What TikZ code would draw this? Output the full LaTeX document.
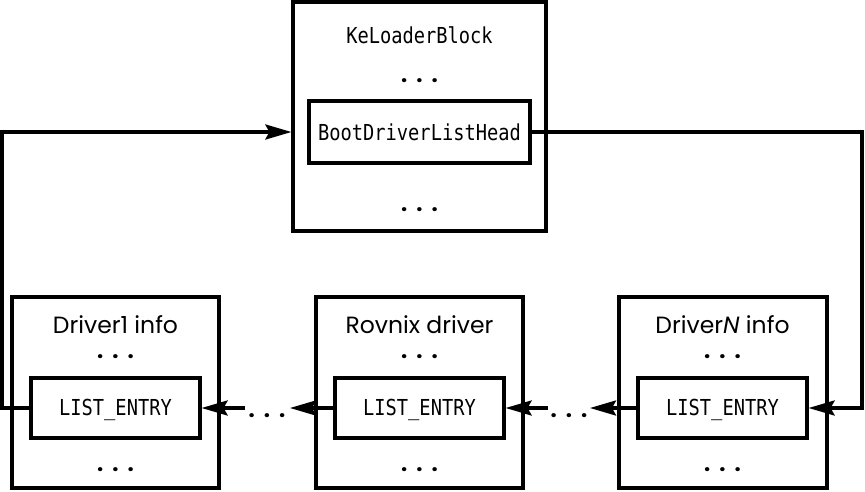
\documentclass[tikz,border=0pt]{standalone}
\usepackage{fontspec}
\setmainfont{Poppins}
\setmonofont[FakeStretch=0.85]{DejaVu Sans Mono}
\usetikzlibrary{arrows.meta}
\begin{document}
\begin{tikzpicture}[x=1pt,y=-1pt,
  box/.style={draw,line width=3.2pt,inner sep=0pt,anchor=center},
  monotext/.style={font=\ttfamily\fontsize{22}{24}\selectfont,anchor=base,inner sep=0pt},
  sanstext/.style={font=\fontsize{23.5}{26}\selectfont,anchor=base,inner sep=0pt},
  dotstext/.style={font=\bfseries\fontsize{22}{24}\selectfont,anchor=base,inner sep=0pt},
  arr/.style={line width=3.2pt,-{Stealth[length=26pt,width=15pt,inset=4pt]}}
]
\useasboundingbox (0,0) rectangle (865,491);
% top block
\node[box,minimum width=253pt,minimum height=229pt] (kel) at (419.5,116.5) {};
\node[box,minimum width=221pt,minimum height=62pt] (boot) at (419.5,132) {};
\node[monotext] (keltxt) at (419.5,43) {KeLoaderBlock};
\node[dotstext] (keld1) at (419.5,82) {.\hspace{9pt}.\hspace{9pt}.};
\node[monotext] (boottxt) at (419.5,140) {BootDriverListHead};
\node[dotstext] (keld2) at (419.5,211) {.\hspace{9pt}.\hspace{9pt}.};
% driver 1
\node[box,minimum width=207pt,minimum height=191pt] (d1) at (115.5,392.5) {};
\node[box,minimum width=169pt,minimum height=60pt] (d1in) at (115.5,408) {};
\node[sanstext] (d1txt) at (115.5,333) {Driver1 info};
\node[dotstext] (d1d1) at (115.5,358) {.\hspace{9pt}.\hspace{9pt}.};
\node[monotext] (d1le) at (115.5,415) {LIST\_ENTRY};
\node[dotstext] (d1d2) at (115.5,471) {.\hspace{9pt}.\hspace{9pt}.};
% rovnix
\node[box,minimum width=207pt,minimum height=191pt] (rov) at (419.5,392.5) {};
\node[box,minimum width=169pt,minimum height=60pt] (rovin) at (419.5,408) {};
\node[sanstext] (rovtxt) at (419.5,333) {Rovnix driver};
\node[dotstext] (rovd1) at (419.5,358) {.\hspace{9pt}.\hspace{9pt}.};
\node[monotext] (rovle) at (419.5,415) {LIST\_ENTRY};
\node[dotstext] (rovd2) at (419.5,471) {.\hspace{9pt}.\hspace{9pt}.};
% driver N
\node[box,minimum width=208pt,minimum height=191pt] (dn) at (723,392.5) {};
\node[box,minimum width=169pt,minimum height=60pt] (dnin) at (722.5,408) {};
\node[sanstext] (dntxt) at (722.5,333) {Driver\textit{N} info};
\node[dotstext] (dnd1) at (722.5,358) {.\hspace{9pt}.\hspace{9pt}.};
\node[monotext] (dnle) at (722.5,415) {LIST\_ENTRY};
\node[dotstext] (dnd2) at (722.5,471) {.\hspace{9pt}.\hspace{9pt}.};
% gaps
\coordinate (g1r) at (290,408);
\coordinate (g1l) at (245,408);
\coordinate (g2r) at (590,408);
\coordinate (g2l) at (548,408);
\node[dotstext] (gap1) at (267,417) {.\hspace{9pt}.\hspace{9pt}.};
\node[dotstext] (gap2) at (569,417) {.\hspace{9pt}.\hspace{9pt}.};
\draw[arr] (rovin.west) -- (g1r);
\draw[arr] (g1l) -- (d1in.east);
\draw[arr] (dnin.west) -- (g2r);
\draw[arr] (g2l) -- (rovin.east);
% loops
\coordinate (lc1) at (2,408);
\coordinate (lc2) at (2,132);
\coordinate (rc1) at (862,132);
\coordinate (rc2) at (862,408);
\coordinate (kelin) at (kel.west |- boot.west);
\draw[arr] (d1in.west) -- (lc1) -- (lc2) -- (kelin);
\draw[arr] (boot.east) -- (rc1) -- (rc2) -- (dnin.east);
\end{tikzpicture}
\end{document}
